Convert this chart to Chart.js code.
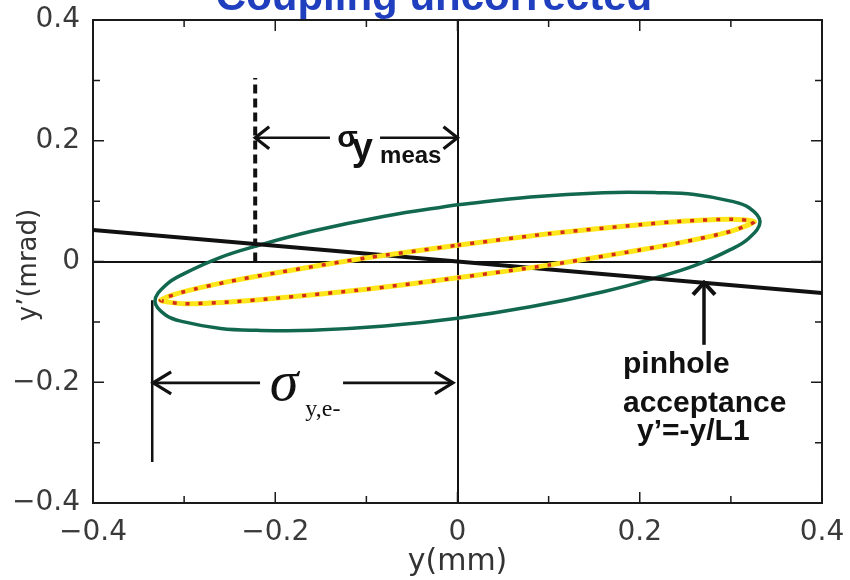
<!DOCTYPE html>
<html>
<head>
<meta charset="utf-8">
<script src="https://cdn.jsdelivr.net/npm/chart.js@4.4.1/dist/chart.umd.min.js"></script>
<style>
  html, body { margin: 0; padding: 0; background: #fff; }
  canvas { display: block; }
</style>
</head>
<body>
<canvas id="phase" width="850" height="580"></canvas>
<script>
// beam ellipse (electron phase space): y in mm, upper / lower y' edges in mrad
var beamY     = [-0.332, -0.32, -0.30, -0.26, -0.22, -0.16, -0.08, 0, 0.08, 0.16, 0.22, 0.26, 0.30, 0.32, 0.332];
var beamUpper = [-0.066, -0.039, -0.020, 0.007, 0.026, 0.050, 0.075, 0.094, 0.107, 0.114, 0.114, 0.111, 0.100, 0.089, 0.066];
var beamLower = [-0.066, -0.089, -0.100, -0.111, -0.114, -0.114, -0.107, -0.094, -0.075, -0.050, -0.026, -0.007, 0.020, 0.039, 0.066];

// thin core ellipse
var coreY     = [-0.326, -0.30, -0.25, -0.20, -0.10, 0, 0.10, 0.20, 0.25, 0.30, 0.326];
var coreUpper = [-0.064, -0.050, -0.033, -0.019, 0.006, 0.027, 0.046, 0.061, 0.067, 0.070, 0.066];
var coreLower = [-0.064, -0.070, -0.067, -0.061, -0.046, -0.027, -0.006, 0.019, 0.033, 0.050, 0.066];

// pinhole acceptance y' = -y/L1
var pinholeY  = [-0.4, 0.4];
var pinholeYp = [0.052, -0.052];

// measured width marker and the two sigma brackets
var measX = -0.222, measTop = 0.304, measLevel = 0.205;
var measGap = [-0.14, -0.085];
var sigmaLeft = -0.335, sigmaRight = -0.005, sigmaLevel = -0.201;
var sigmaGap = [-0.2167, -0.1256];
var sigmaBar = [-0.064, -0.332];
var pinArrowX = 0.2705, pinArrowFrom = -0.138;

// axis ticks
var majorTicks = [-0.4, -0.2, 0, 0.2, 0.4];
var minorTicks = [-0.3, -0.1, 0.1, 0.3];

function loop(xs, up, lo) {
  var n = xs.length, mid = Math.floor(n / 2), pts = [];
  for (var i = mid; i < n; i++) pts.push({x: xs[i], y: up[i]});
  for (var j = n - 2; j >= 0; j--) pts.push({x: xs[j], y: lo[j]});
  for (var k = 1; k <= mid; k++) pts.push({x: xs[k], y: up[k]});
  return pts;
}

var pinLineAt = function (x) {
  var t = (x - pinholeY[0]) / (pinholeY[1] - pinholeY[0]);
  return pinholeYp[0] + t * (pinholeYp[1] - pinholeYp[0]);
};

function seg(x0, y0, x1, y1) { return [{x: x0, y: y0}, {x: x1, y: y1}]; }

var TICK_FONT = 'DejaVu Sans';

var notes = [
  {text: 'σ', x: -0.132, y: 0.19, font: 'bold 30px "Liberation Sans"'},
  {text: 'y', x: -0.116, y: 0.168, font: 'bold 38px "Liberation Sans"'},
  {text: 'meas', x: -0.085, y: 0.163, font: 'bold 24px "Liberation Sans"'},
  {text: 'σ', x: -0.206, y: -0.229, font: 'italic 58px "Liberation Serif"'},
  {text: 'y,e-', x: -0.167, y: -0.256, font: '24px "Liberation Serif"'},
  {text: 'pinhole', x: 0.1816, y: -0.185, font: 'bold 30px "Liberation Sans"'},
  {text: 'acceptance', x: 0.1816, y: -0.249, font: 'bold 30px "Liberation Sans"'},
  {text: 'y’=-y/L1', x: 0.197, y: -0.296, font: 'bold 30px "Liberation Sans"'}
];

function line(data, color, width, extra) {
  var ds = {
    data: data, showLine: true, fill: false, pointRadius: 0,
    borderColor: color, borderWidth: width, tension: 0
  };
  for (var k in extra) ds[k] = extra[k];
  return ds;
}

var datasets = [
  line(loop(coreY, coreUpper, coreLower), '#d42a1c', 3.5, {tension: 0.22, borderDash: [4, 9], order: 1}),
  line(loop(coreY, coreUpper, coreLower), '#ffe61a', 5, {tension: 0.22, order: 2}),
  line(seg(pinholeY[0], pinholeYp[0], pinholeY[1], pinholeYp[1]), '#111', 4, {order: 3}),
  line(loop(beamY, beamUpper, beamLower), '#11684f', 3.5, {tension: 0.4, order: 4}),
  line(seg(measX, 0, measX, measTop), '#111', 4, {borderDash: [9, 5], order: 5}),
  line(seg(measX, measLevel, measGap[0], measLevel), '#111', 2.6, {heads: ['start'], order: 6}),
  line(seg(measGap[1], measLevel, 0, measLevel), '#111', 2.6, {heads: ['end'], order: 6}),
  line(seg(sigmaLeft, sigmaBar[0], sigmaLeft, sigmaBar[1]), '#111', 2.5, {order: 7}),
  line(seg(sigmaLeft + 0.001, sigmaLevel, sigmaGap[0], sigmaLevel), '#111', 2.6, {heads: ['start'], headLen: 18, order: 7}),
  line(seg(sigmaGap[1], sigmaLevel, sigmaRight, sigmaLevel), '#111', 2.6, {heads: ['end'], headLen: 18, order: 7}),
  line(seg(pinArrowX, pinArrowFrom, pinArrowX, pinLineAt(pinArrowX)), '#111', 3.5, {heads: ['end'], headLen: 12, order: 8})
];

function chevron(ctx, tip, from, len, half, width) {
  var dx = tip.x - from.x, dy = tip.y - from.y;
  var d = Math.sqrt(dx * dx + dy * dy) || 1;
  var ux = dx / d, uy = dy / d;
  var bx = tip.x - ux * len, by = tip.y - uy * len;
  ctx.beginPath();
  ctx.moveTo(bx - uy * half, by + ux * half);
  ctx.lineTo(tip.x, tip.y);
  ctx.lineTo(bx + uy * half, by - ux * half);
  ctx.lineWidth = width;
  ctx.lineJoin = 'miter';
  ctx.strokeStyle = '#111';
  ctx.setLineDash([]);
  ctx.stroke();
}

var frameAndNotes = {
  id: 'frameAndNotes',
  beforeDatasetsDraw: function (chart) {
    var ctx = chart.ctx, a = chart.chartArea;
    var xs = chart.scales.x, ys = chart.scales.y;
    ctx.save();
    ctx.strokeStyle = '#1a1a1a';
    ctx.lineWidth = 2;
    ctx.strokeRect(a.left, a.top, a.right - a.left, a.bottom - a.top);
    ctx.lineWidth = 1.5;
    var all = majorTicks.concat(minorTicks);
    all.forEach(function (v) {
      var len = majorTicks.indexOf(v) >= 0 ? 11 : 7;
      var px = xs.getPixelForValue(v), py = ys.getPixelForValue(v);
      ctx.beginPath();
      ctx.moveTo(px, a.bottom); ctx.lineTo(px, a.bottom - len);
      ctx.moveTo(px, a.top); ctx.lineTo(px, a.top + len);
      ctx.moveTo(a.left, py); ctx.lineTo(a.left + len, py);
      ctx.moveTo(a.right, py); ctx.lineTo(a.right - len, py);
      ctx.stroke();
    });
    ctx.restore();
  },
  afterDatasetsDraw: function (chart) {
    var ctx = chart.ctx;
    ctx.save();
    chart.data.datasets.forEach(function (ds, i) {
      if (!ds.heads) return;
      var pts = chart.getDatasetMeta(i).data;
      var len = ds.headLen || 14, half = 11;
      ds.heads.forEach(function (h) {
        if (h === 'start') chevron(ctx, pts[0], pts[1], len, half, ds.borderWidth + 0.6);
        else chevron(ctx, pts[pts.length - 1], pts[pts.length - 2], len, half, ds.borderWidth + 0.6);
      });
    });
    ctx.restore();
  },
  afterDraw: function (chart) {
    var ctx = chart.ctx, a = chart.chartArea;
    var xs = chart.scales.x, ys = chart.scales.y;
    ctx.save();
    ctx.textBaseline = 'alphabetic';
    ctx.textAlign = 'left';
    ctx.fillStyle = '#111';
    notes.forEach(function (n) {
      ctx.font = n.font;
      ctx.fillText(n.text, xs.getPixelForValue(n.x), ys.getPixelForValue(n.y));
    });

    // axis titles
    ctx.fillStyle = '#333';
    ctx.textAlign = 'center';
    ctx.font = '30px "' + TICK_FONT + '"';
    ctx.fillText('y(mm)', (a.left + a.right) / 2, 570);
    ctx.save();
    ctx.translate(36, 265);
    ctx.rotate(-Math.PI / 2);
    ctx.font = '26px "' + TICK_FONT + '"';
    ctx.fillText('y’(mrad)', 0, 0);
    ctx.restore();

    // slide heading, cut by the top edge
    ctx.fillStyle = '#1f3fbf';
    ctx.font = 'bold 42px "Liberation Sans"';
    ctx.fillText('Coupling uncorrected', 434, 10);
    ctx.restore();
  }
};

function tickText(v) {
  if (Math.abs(v) < 1e-9) return '0';
  return (v < 0 ? '−' : '') + Math.abs(v).toFixed(1);
}

function zeroGrid(c) {
  return Math.abs(c.tick.value) < 1e-9 ? '#111' : 'rgba(0,0,0,0)';
}

function majorOnly(s) {
  s.ticks = majorTicks.map(function (v) { return {value: v}; });
}

new Chart(document.getElementById('phase'), {
  type: 'scatter',
  data: {datasets: datasets},
  options: {
    responsive: false,
    animation: false,
    devicePixelRatio: 1,
    layout: {padding: {top: 20, right: 28, left: 0, bottom: 0}},
    plugins: {legend: {display: false}, tooltip: {enabled: false}, title: {display: false}},
    scales: {
      x: {
        type: 'linear', min: -0.4, max: 0.4,
        afterBuildTicks: majorOnly,
        afterFit: function (s) { s.height = 77; s.paddingLeft = 0; s.paddingRight = 0; },
        ticks: {callback: tickText, color: '#3a3a3a', padding: 13, font: {family: TICK_FONT, size: 28}, maxRotation: 0},
        grid: {drawTicks: false, color: zeroGrid, lineWidth: 2},
        border: {display: false}
      },
      y: {
        type: 'linear', min: -0.4, max: 0.4,
        afterBuildTicks: majorOnly,
        afterFit: function (s) { s.width = 93; s.paddingTop = 0; s.paddingBottom = 0; },
        ticks: {callback: tickText, color: '#3a3a3a', padding: 13, font: {family: TICK_FONT, size: 28}},
        grid: {drawTicks: false, color: zeroGrid, lineWidth: 2},
        border: {display: false}
      }
    }
  },
  plugins: [frameAndNotes]
});
</script>
</body>
</html>
